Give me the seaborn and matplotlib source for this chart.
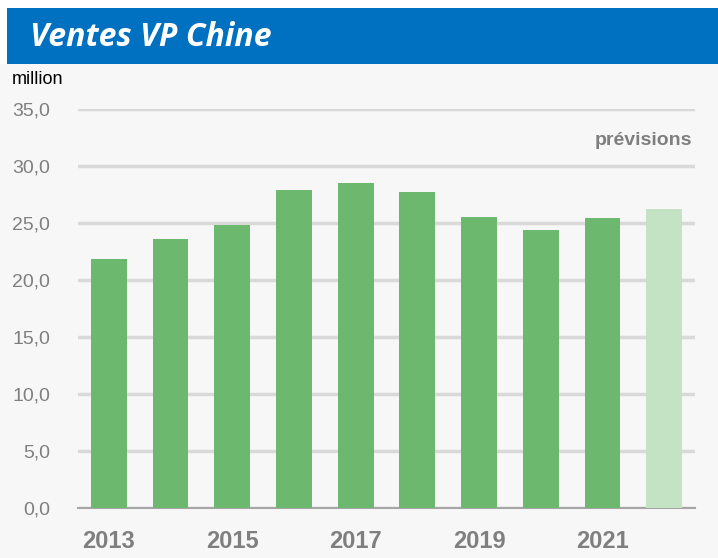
import matplotlib
matplotlib.use("Agg")
import matplotlib.pyplot as plt
import seaborn as sns
import pandas as pd
from matplotlib.patches import Rectangle

# Data
years = ["2013", "2014", "2015", "2016", "2017", "2018", "2019", "2020", "2021", "2022"]
sales = [21.8, 23.6, 24.8, 27.9, 28.5, 27.7, 25.5, 24.4, 25.4, 26.2]
kind = ["réel"] * 9 + ["prévision"]
yticks = [0, 5, 10, 15, 20, 25, 30, 35]
shown_years = ["2013", "2015", "2017", "2019", "2021"]

df = pd.DataFrame({"year": years, "sales": sales, "kind": kind})

sns.set_theme(style="white")
plt.rcParams["font.family"] = ["Liberation Sans", "DejaVu Sans"]

fig = plt.figure(figsize=(7.18, 5.58), dpi=100)
fig.patch.set_facecolor("white")

# light grey chart area and blue title band
fig.add_artist(Rectangle((0, 0), 1, 494 / 558, transform=fig.transFigure,
                         facecolor="#F7F7F7", edgecolor="none", zorder=-5))
fig.add_artist(Rectangle((7 / 718, 494 / 558), 1, 56 / 558, transform=fig.transFigure,
                         facecolor="#0070C0", edgecolor="none", zorder=-4))
fig.text(30 / 718, 521 / 558, "Ventes VP Chine", color="white", fontsize=23,
         fontweight="bold", fontstyle="italic", va="center", ha="left",
         family=["Open Sans", "DejaVu Sans"])

ax = fig.add_axes([78 / 718, 50 / 558, 617 / 718, 399 / 558])
ax.set_facecolor("#F7F7F7")

sns.barplot(data=df, x="year", y="sales", hue="kind", order=years,
            palette={"réel": "#6CB86F", "prévision": "#C4E3C5"},
            dodge=False, width=0.58, saturation=1, legend=False,
            linewidth=0, ax=ax, zorder=3)

ax.set_ylim(0, 35)
ax.set_xlim(-0.5, 9.5)
ax.set_yticks(yticks)
ax.set_yticklabels([f"{v:.1f}".replace(".", ",") for v in yticks],
                   fontsize=14, color="#7F7F7F")
ax.set_xticks([years.index(y) for y in shown_years])
ax.set_xticklabels(shown_years, fontsize=17, fontweight="bold", color="#7F7F7F")
ax.tick_params(axis="both", length=0)
ax.tick_params(axis="x", pad=16)
ax.tick_params(axis="y", pad=20)
ax.grid(axis="y", color="#D9D9D9", linewidth=2.5, zorder=0)
ax.set_axisbelow(True)
for side in ["top", "right", "left"]:
    ax.spines[side].set_visible(False)
ax.spines["bottom"].set_color("#A6A6A6")
ax.spines["bottom"].set_linewidth(1.5)
ax.set_xlabel("")
ax.set_ylabel("")

fig.text(12 / 718, 478 / 558, "million", color="black", fontsize=13,
         va="center", ha="left")
ax.text(0.995, 0.92, "prévisions", transform=ax.transAxes, color="#7F7F7F",
        fontsize=14, fontweight="bold", ha="right", va="center")

fig.savefig("out.png", dpi=100, facecolor=fig.get_facecolor())
